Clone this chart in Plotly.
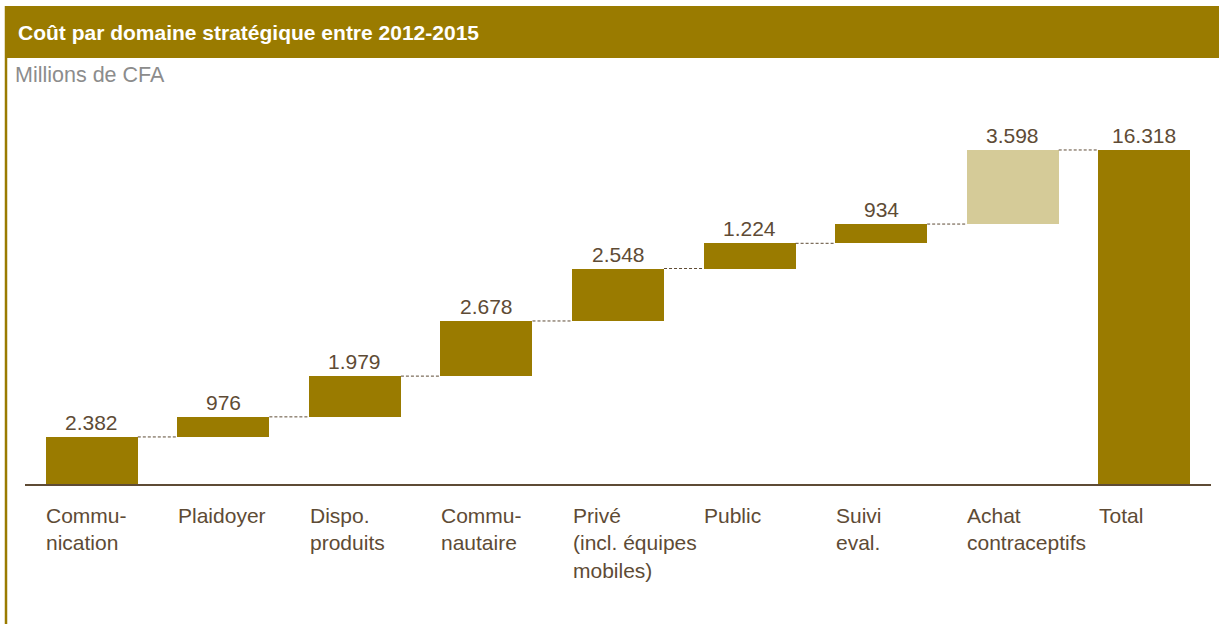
import plotly.graph_objects as go

categories = ["Commu-<br>nication", "Plaidoyer", "Dispo.<br>produits", "Commu-<br>nautaire",
              "Privé<br>(incl. équipes<br>mobiles)", "Public", "Suivi<br>eval.",
              "Achat<br>contraceptifs", "Total"]
steps = [2382, 976, 1979, 2678, 2548, 1224, 934, 3598]
total = 16318
value_labels = ["2.382", "976", "1.979", "2.678", "2.548", "1.224", "934", "3.598", "16.318"]

OLIVE = "#9A7B00"
LIGHT = "#D5CB98"
TEXT = "#5E4B35"
FONT = "Liberation Sans, Arial"

# geometry (pixels)
W, H = 1219, 624
PL, PR = 26, 1210
PT, PB = 100, 486
BAR_W = 0.7

def px_x(p):
    return (p - PL) / (PR - PL)

def px_y(p):
    return (PB - p) / (PB - PT)

# waterfall bases
bases, heights, cum = [], [], []
run = 0
for v in steps:
    bases.append(run)
    heights.append(v)
    run += v
    cum.append(run)
bases.append(0)
heights.append(total)
cum.append(total)

colors = [OLIVE] * 7 + [LIGHT] + [OLIVE]
xs = list(range(len(categories)))

fig = go.Figure()
fig.add_trace(go.Bar(x=xs, y=heights, base=bases, width=BAR_W,
                     marker=dict(color=colors, line=dict(width=0)),
                     hoverinfo="skip", showlegend=False))

shapes = []
annotations = []
# connectors
for i in range(len(categories) - 1):
    shapes.append(dict(type="line", xref="x", yref="y",
                       x0=i + BAR_W / 2, x1=i + 1 - BAR_W / 2,
                       y0=cum[i], y1=cum[i],
                       line=dict(color=TEXT, width=1, dash="3px,2px")))
# value labels
for i, lab in enumerate(value_labels):
    annotations.append(dict(x=i, y=bases[i] + heights[i], xref="x", yref="y",
                            text=lab, showarrow=False, yanchor="bottom", yshift=1,
                            font=dict(size=21, color=TEXT, family=FONT)))
# category labels
for i, cat in enumerate(categories):
    annotations.append(dict(x=i - BAR_W / 2 - 0.01, y=0, xref="x", yref="y",
                            text=cat, showarrow=False, xanchor="left", yanchor="top",
                            align="left", yshift=-16,
                            font=dict(size=21, color=TEXT, family=FONT)))

# title bar
shapes.append(dict(type="rect", xref="paper", yref="paper",
                   x0=px_x(5), x1=px_x(1225), y0=px_y(58), y1=px_y(6),
                   fillcolor=OLIVE, line=dict(width=0), layer="below"))
# left border
shapes.append(dict(type="line", xref="paper", yref="paper",
                   x0=px_x(6), x1=px_x(6), y0=px_y(6), y1=px_y(630),
                   line=dict(color=OLIVE, width=2.5)))
# axis baseline
shapes.append(dict(type="line", xref="paper", yref="y",
                   x0=px_x(25), x1=px_x(1211), y0=0, y1=0,
                   line=dict(color=TEXT, width=4)))

annotations.append(dict(x=px_x(16), y=px_y(32), xref="paper", yref="paper",
                        text="<b>Coût par domaine stratégique entre 2012-2015</b>",
                        showarrow=False, xanchor="left", yanchor="middle",
                        font=dict(size=21, color="white", family=FONT)))
annotations.append(dict(x=px_x(13), y=px_y(75), xref="paper", yref="paper",
                        text="Millions de CFA", showarrow=False,
                        xanchor="left", yanchor="middle",
                        font=dict(size=21.5, color="#8C8C8C", family=FONT)))

ymax = total * (PB - PT) / (PB - 150)

fig.update_layout(
    width=W, height=H,
    margin=dict(l=PL, r=W - PR, t=PT, b=H - PB, pad=0),
    paper_bgcolor="white", plot_bgcolor="white",
    xaxis=dict(range=[-0.5, len(categories) - 0.5], showticklabels=False,
               showgrid=False, zeroline=False, showline=False, fixedrange=True),
    yaxis=dict(range=[0, ymax], visible=False, showgrid=False, zeroline=False,
               fixedrange=True),
    shapes=shapes, annotations=annotations,
    bargap=0, showlegend=False,
)

fig.write_html("out.html",
               config={"displayModeBar": False},
               post_script="document.body.style.margin='0';document.body.style.overflow='hidden';")
